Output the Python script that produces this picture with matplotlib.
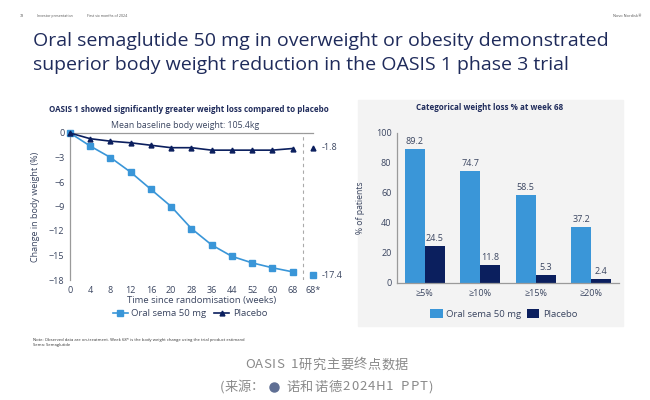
import numpy as np
import matplotlib.pyplot as plt
from matplotlib.patches import Rectangle
from matplotlib.lines import Line2D

plt.rcParams['font.family'] = ['Open Sans', 'DejaVu Sans']

# ---- data ----
weeks = ['0', '4', '8', '12', '16', '20', '28', '36', '44', '52', '60', '68']
sema = [0, -1.6, -3.0, -4.8, -6.9, -9.0, -11.7, -13.7, -15.1, -15.9, -16.5, -17.0]
placebo = [0, -0.7, -1.0, -1.2, -1.5, -1.8, -1.8, -2.1, -2.1, -2.1, -2.1, -1.9]
sema_est = -17.4
placebo_est = -1.8

cats = ['≥5%', '≥10%', '≥15%', '≥20%']
sema_cat = [89.2, 74.7, 58.5, 37.2]
placebo_cat = [24.5, 11.8, 5.3, 2.4]

navy = '#0b1f5e'
light = '#3a96d8'
title_col = '#1f2b5b'
txt = '#3a4560'
grey = '#9a9a9a'

W, H = 650, 400
fig = plt.figure(figsize=(6.5, 4), dpi=100)


def px(x, y):
    return x / W, 1 - y / H


def box(l, t, r, b):
    return [l / W, 1 - b / H, (r - l) / W, (b - t) / H]


def tracked(x0, x1, y, s, size, color, family):
    # spread characters evenly between x0 and x1 (letter-spaced text)
    r = fig.canvas.get_renderer()
    ts = [fig.text(0, 0, c, fontsize=size, color=color, family=family, va='center') for c in s]
    ws = [t.get_window_extent(r).width if c != ' ' else size * 0.6 for t, c in zip(ts, s)]
    gap = (x1 - x0 - sum(ws)) / (len(s) - 1)
    xx = x0
    for t, w in zip(ts, ws):
        t.set_position(px(xx, y))
        xx += w + gap


# header
fig.text(*px(20, 16), '78', fontsize=2.6, color='#555', va='center')
fig.text(*px(37, 16), 'Investor presentation', fontsize=2.6, color='#555', va='center')
fig.text(*px(87, 16), 'First six months of 2024', fontsize=2.6, color='#555', va='center')
fig.text(*px(641, 16), 'Novo Nordisk®', fontsize=2.8, color='#555', va='center', ha='right')

fig.text(*px(33, 41), 'Oral semaglutide 50 mg in overweight or obesity demonstrated',
         fontsize=14.0, color=title_col, va='center')
fig.text(*px(33, 65), 'superior body weight reduction in the OASIS 1 phase 3 trial',
         fontsize=14.0, color=title_col, va='center')

# ---- left line chart ----
ax = fig.add_axes(box(70, 133, 333, 280))
x = np.arange(len(weeks))
ax.plot(x, sema, color=light, marker='s', ms=4, lw=1.2, clip_on=False, zorder=3)
ax.plot(x, placebo, color=navy, marker='^', ms=3.5, lw=1.2, clip_on=False, zorder=3)
xe = len(weeks)
ax.plot([xe], [sema_est], marker='s', ms=4, color=light, ls='none', clip_on=False)
ax.plot([xe], [placebo_est], marker='^', ms=3.5, color=navy, ls='none', clip_on=False)
ax.text(xe + 0.45, sema_est, str(sema_est), fontsize=6.5, color=txt, va='center')
ax.text(xe + 0.45, placebo_est, str(placebo_est), fontsize=6.5, color=txt, va='center')
ax.axvline(xe - 0.5, color='#aaaaaa', ls=(0, (3, 3)), lw=0.8)
ax.plot([0, xe], [0, 0], color=grey, lw=0.9, clip_on=False, zorder=1)
ax.set_xlim(0, 13)
ax.set_ylim(-18, 0)
ax.set_yticks(np.arange(0, -19, -3))
ax.set_xticks(list(x) + [xe])
ax.set_xticklabels(weeks + ['68*'])
ax.tick_params(length=0, labelsize=6.5, colors=txt, pad=4)
for s in ['top', 'right', 'bottom']:
    ax.spines[s].set_visible(False)
ax.spines['left'].set_color(grey)
ax.spines['left'].set_linewidth(0.9)
ax.set_ylabel('Change in body weight (%)', fontsize=6.5, color=txt, labelpad=6)
ax.set_xlabel('Time since randomisation (weeks)', fontsize=6.8, color=txt, labelpad=1)
ax.patch.set_alpha(0)

fig.text(*px(189, 109), 'OASIS 1 showed significantly greater weight loss compared to placebo',
         fontsize=5.8, color=title_col, weight='bold', ha='center', va='center')
fig.text(*px(185, 126), 'Mean baseline body weight: 105.4kg',
         fontsize=6.3, color=txt, ha='center', va='center')

h1 = Line2D([], [], color=light, marker='s', ms=4, lw=1.2)
h2 = Line2D([], [], color=navy, marker='^', ms=3.5, lw=1.2)
fig.legend([h1, h2], ['Oral sema 50 mg', 'Placebo'], loc='center', bbox_to_anchor=px(190, 314),
           ncol=2, frameon=False, fontsize=6.8, handlelength=1.6, handletextpad=0.4,
           columnspacing=0.8, labelcolor=txt)

# ---- right bar chart ----
fig.patches.append(Rectangle(px(358, 326), 265 / W, 226 / H, transform=fig.transFigure,
                             color='#f3f3f3', zorder=-1))
fig.text(*px(490, 108), 'Categorical weight loss % at week 68', fontsize=5.8,
         color=title_col, weight='bold', ha='center', va='center')

bx = fig.add_axes(box(397, 133, 619, 283))
bx.patch.set_alpha(0)
xc = np.arange(len(cats))
bw = 0.36
b1 = bx.bar(xc - bw / 2, sema_cat, bw, color=light, label='Oral sema 50 mg')
b2 = bx.bar(xc + bw / 2, placebo_cat, bw, color=navy, label='Placebo')
for bars, vals in [(b1, sema_cat), (b2, placebo_cat)]:
    for r, v in zip(bars, vals):
        bx.text(r.get_x() + r.get_width() / 2, v + 2, f'{v}', ha='center', va='bottom',
                fontsize=6.5, color=txt)
bx.set_xlim(-0.5, 3.5)
bx.set_ylim(0, 100)
bx.set_yticks(range(0, 101, 20))
bx.set_xticks(xc)
bx.set_xticklabels(cats)
bx.tick_params(length=0, labelsize=6.5, colors=txt, pad=4)
for s in ['top', 'right']:
    bx.spines[s].set_visible(False)
for s in ['left', 'bottom']:
    bx.spines[s].set_color(grey)
    bx.spines[s].set_linewidth(0.9)
bx.set_ylabel('% of patients', fontsize=6.2, color=txt, labelpad=8)
fig.legend([b1, b2], ['Oral sema 50 mg', 'Placebo'], loc='center', bbox_to_anchor=px(504, 314),
           ncol=2, frameon=False, fontsize=6.8, handlelength=1.3, handleheight=1.1,
           handletextpad=0.4, columnspacing=0.6, labelcolor=txt)

# footnote
fig.text(*px(33, 340), 'Note: Observed data are on-treatment. Week 68* is the body weight change using the trial product estimand',
         fontsize=3, color='#333', va='center')
fig.text(*px(33, 345), 'Sema: Semaglutide', fontsize=3, color='#333', va='center')

# footer (Chinese, letter-spaced)
cjk = ['Noto Sans CJK SC', 'DejaVu Sans']
foot = '#8a8a8a'
tracked(245, 408, 365, 'OASIS 1研究主要终点数据', 9.5, foot, cjk)
tracked(220, 264, 387, '(来源：', 9.5, foot, cjk)
fig.add_artist(Line2D([274 / W], [1 - 387 / H], marker='o', ms=6.5, color='#5f6f94',
                      ls='none', transform=fig.transFigure))
tracked(286, 433, 387, '诺和诺德2024H1 PPT)', 9.5, foot, cjk)

fig.savefig('out.png', dpi=100, facecolor='white')
